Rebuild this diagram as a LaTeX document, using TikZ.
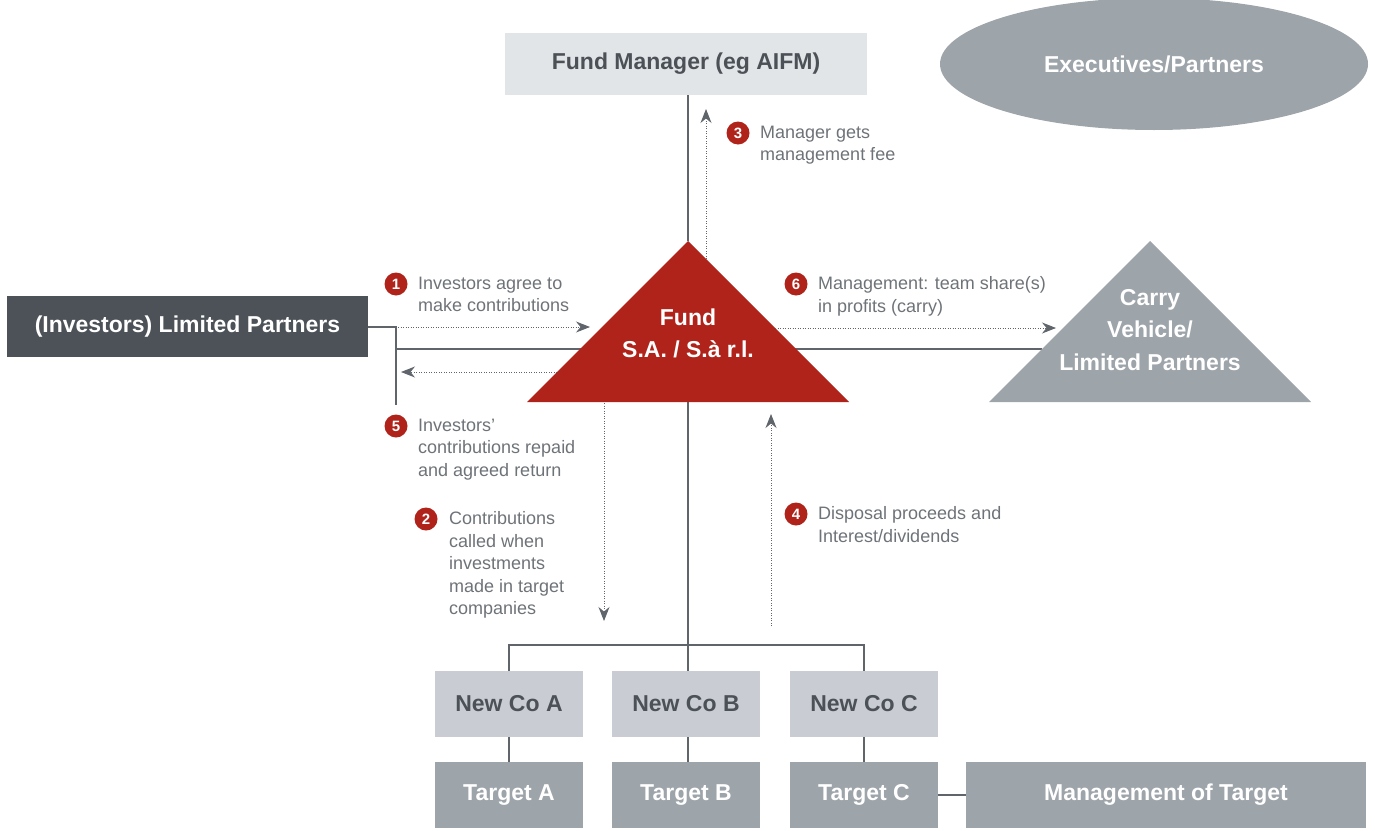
\documentclass[tikz,border=0pt]{standalone}
\usepackage{fontspec}
\setmainfont{Liberation Sans}
\usetikzlibrary{arrows.meta,shapes.geometric}
\definecolor{fundred}{HTML}{B0231A}
\definecolor{lightbox}{HTML}{E2E5E8}
\definecolor{newco}{HTML}{C9CDD3}
\definecolor{midgray}{HTML}{9DA4AA}
\definecolor{lpgray}{HTML}{4C5257}
\definecolor{darktext}{HTML}{4B5157}
\definecolor{labeltext}{HTML}{6E7378}
\definecolor{linecol}{HTML}{5F656B}
\begin{document}
\begin{tikzpicture}[x=1pt,y=-1pt,
  box/.style={inner sep=0pt, font=\fontsize{23}{27}\selectfont\bfseries},
  conn/.style={draw=linecol, line width=1.3pt},
  flow/.style={draw=linecol, line width=0.9pt, dash pattern=on 0.9pt off 1.6pt, -{Stealth[length=14pt,width=11pt]}},
  num/.style={circle, fill=fundred, text=white, inner sep=0pt, minimum size=23pt, font=\fontsize{15}{15}\selectfont\bfseries},
  lbl/.style={anchor=north west, inner sep=0pt, align=left, text=labeltext, font=\fontsize{18}{22.5}\selectfont}
]
\useasboundingbox (0,0) rectangle (1375,830);

% boxes
\node[box, fill=lightbox, text=darktext, minimum width=362pt, minimum height=62pt] (fm) at (686,64) {Fund Manager (eg AIFM)};
\node[box, ellipse, fill=midgray, text=white, minimum width=428pt, minimum height=132pt] (ex) at (1154,64) {Executives/Partners};
\node[box, fill=lpgray, text=white, minimum width=361pt, minimum height=61pt] (lp) at (187.5,326.5) {(Investors) Limited Partners};

\node[box, fill=newco, text=darktext, minimum width=148pt, minimum height=66pt] (nA) at (509,704) {New Co A};
\node[box, fill=newco, text=darktext, minimum width=148pt, minimum height=66pt] (nB) at (686,704) {New Co B};
\node[box, fill=newco, text=darktext, minimum width=148pt, minimum height=66pt] (nC) at (864,704) {New Co C};
\node[box, fill=midgray, text=white, minimum width=148pt, minimum height=66pt] (tA) at (509,795) {Target A};
\node[box, fill=midgray, text=white, minimum width=148pt, minimum height=66pt] (tB) at (686,795) {Target B};
\node[box, fill=midgray, text=white, minimum width=148pt, minimum height=66pt] (tC) at (864,795) {Target C};
\node[box, fill=midgray, text=white, minimum width=400pt, minimum height=66pt] (mg) at (1166,795) {Management of Target};

% coordinates
\coordinate (fundtop) at (688,241);
\coordinate (fundbot) at (688,402);
\coordinate (bus) at (688,645);
\coordinate (lpc) at (396,327);
\coordinate (lpend) at (396,405);
\coordinate (j) at (396,349);
\coordinate (carryw) at (1042,349);

% solid connectors
\draw[conn] (fm.south -| fundtop) -- (fundtop);
\draw[conn] (lp.east |- lpc) -- (lpc) -- (lpend);
\draw[conn] (j) -- (carryw);
\draw[conn] (fundbot) -- (bus);
\draw[conn] (nA.north) |- (bus) -| (nC.north);
\draw[conn] (bus) -- (bus |- nB.north);
\draw[conn] (nA) -- (tA);
\draw[conn] (nB.south -| bus) -- (tB.north -| bus);
\draw[conn] (nC) -- (tC);
\draw[conn] (tC) -- (mg);

% triangles
\fill[fundred] (fundtop) -- (849,402) -- (527,402) -- cycle;
\fill[midgray] (1150,241) -- (1311,402) -- (989,402) -- cycle;
\node[box, text=white, align=center, font=\fontsize{23}{32}\selectfont\bfseries] (fundtxt) at (688,333) {Fund\\S.A. / S.à r.l.};
\node[box, text=white, align=center, font=\fontsize{23}{32.5}\selectfont\bfseries] (carrytxt) at (1150,330) {Carry\\Vehicle/\\Limited Partners};

% flow coordinates
\coordinate (a1s) at (398,327); \coordinate (a1e) at (590,327);
\coordinate (a5s) at (557,372); \coordinate (a5e) at (401,372);
\coordinate (a3s) at (706,259); \coordinate (a3e) at (706,109);
\coordinate (a6s) at (775,328); \coordinate (a6e) at (1056,328);
\coordinate (a2s) at (604,403); \coordinate (a2e) at (604,621);
\coordinate (a4s) at (771,626); \coordinate (a4e) at (771,414);
\draw[flow] (a1s) -- (a1e);
\draw[flow] (a5s) -- (a5e);
\draw[flow] (a3s) -- (a3e);
\draw[flow] (a6s) -- (a6e);
\draw[flow] (a2s) -- (a2e);
\draw[flow] (a4s) -- (a4e);

% labels
\node[num] (c1) at (396,284) {1};
\node[lbl] (l1) at (418,276.5) {Investors agree to\\make contributions};
\node[num] (c3) at (738,133) {3};
\node[lbl] (l3) at (760,125.5) {Manager gets\\management fee};
\node[num] (c6) at (796,284) {6};
\node[lbl] (l6) at (818,276.5) {Management: team share(s)\\in profits (carry)};
\node[num] (c5) at (396,426) {5};
\node[lbl] (l5) at (418,418.5) {Investors’\\contributions repaid\\and agreed return};
\node[num] (c2) at (426,519) {2};
\node[lbl] (l2) at (449,511.5) {Contributions\\called when\\investments\\made in target\\companies};
\node[num] (c4) at (796,514) {4};
\node[lbl] (l4) at (818,506.5) {Disposal proceeds and\\Interest/dividends};
\end{tikzpicture}
\end{document}
